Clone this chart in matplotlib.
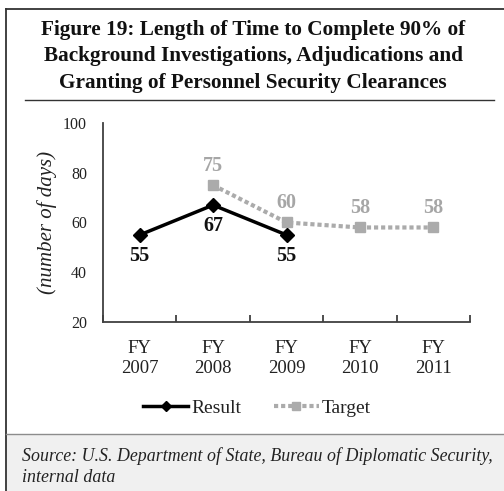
import matplotlib
matplotlib.use("Agg")
import matplotlib.pyplot as plt
from matplotlib.lines import Line2D
from matplotlib.patches import Rectangle

# Data
years = ["FY\n2007", "FY\n2008", "FY\n2009", "FY\n2010", "FY\n2011"]
result_idx = [0, 1, 2]
result_vals = [55, 67, 55]
target_idx = [1, 2, 3, 4]
target_vals = [75, 60, 58, 58]
yticks = [20, 40, 60, 80, 100]

W, H = 504, 491
fig = plt.figure(figsize=(W / 100, H / 100), dpi=100)
fig.patch.set_facecolor("white")
plt.rcParams["font.family"] = ["Liberation Serif", "DejaVu Serif"]

def fx(px):
    return px / W

def fy(py):
    return 1 - py / H

# Frame: left and top border, source panel
fig.add_artist(Line2D([fx(6), fx(6)], [fy(9), 0], color="#333333", lw=1.3))
fig.add_artist(Line2D([fx(6), 1], [fy(9), fy(9)], color="#333333", lw=1.3))
fig.add_artist(Rectangle((fx(6.6), 0), 1 - fx(6.6), fy(434), facecolor="#f0f0f0",
                         edgecolor="none", zorder=0))
fig.add_artist(Line2D([fx(6), 1], [fy(434), fy(434)], color="#8c8c8c", lw=1.0))
fig.add_artist(Line2D([fx(25), fx(494)], [fy(100), fy(100)], color="#333333", lw=1.0))

# Title
fig.text(fx(253), fy(56.5), "Figure 19: Length of Time to Complete 90% of\n"
         "Background Investigations, Adjudications and\n"
         "Granting of Personnel Security Clearances",
         ha="center", va="center", fontsize=15.3, fontweight="bold",
         linespacing=1.43, color="#111111")

# Source note
fig.text(fx(22), fy(456), "Source: U.S. Department of State, Bureau of Diplomatic Security,",
         ha="left", va="center", fontsize=12.9, style="italic", color="#222222")
fig.text(fx(22), fy(477), "internal data",
         ha="left", va="center", fontsize=12.9, style="italic", color="#222222")

# Axes
ax = fig.add_axes([fx(103), fy(322), fx(470) - fx(103), fy(123) - fy(322)])
ax.set_facecolor("none")
ax.set_xlim(-0.5, len(years) - 0.5)
ax.set_ylim(20, 100)

for s in ["top", "right"]:
    ax.spines[s].set_visible(False)
for s in ["left", "bottom"]:
    ax.spines[s].set_color("#404040")
    ax.spines[s].set_linewidth(1.3)

ax.set_yticks(yticks)
ax.set_yticklabels([str(v) for v in yticks])
ax.tick_params(axis="y", which="major", length=0, pad=11.5, labelsize=11.5, labelcolor="#222222")
ax.set_yticks([100], minor=True)
ax.tick_params(axis="y", which="minor", length=9, direction="in", width=1.3, color="#404040")

ax.set_xticks(range(len(years)))
ax.set_xticklabels(years, linespacing=1.2)
ax.tick_params(axis="x", which="major", length=0, pad=13, labelsize=13.5, labelcolor="#222222")
ax.set_xticks([i - 0.5 for i in range(len(years) + 1)], minor=True)
ax.tick_params(axis="x", which="minor", length=5, direction="in", width=1.3, color="#404040")

ax.set_ylabel("(number of days)", fontsize=15, style="italic", color="#222222", labelpad=4)

gray = "#ababab"
ax.plot(target_idx, target_vals, linestyle=(0, (1, 0.7)), color=gray, lw=3,
        marker="s", markersize=7, markerfacecolor=gray, markeredgecolor=gray,
        label="Target", zorder=3)
ax.plot(result_idx, result_vals, linestyle="-", color="black", lw=2.5,
        marker="D", markersize=7, markerfacecolor="black", markeredgecolor="black",
        label="Result", zorder=4)

for x, v in zip(result_idx, result_vals):
    ax.annotate(str(v), (x, v), xytext=(0, -21), textcoords="offset pixels",
                ha="center", va="center", fontsize=14.5, fontweight="bold", color="#111111")
for x, v in zip(target_idx, target_vals):
    ax.annotate(str(v), (x, v), xytext=(0, 19), textcoords="offset pixels",
                ha="center", va="center", fontsize=14.5, fontweight="bold", color="#a6a6a6")

handles, labels = ax.get_legend_handles_labels()
order = [1, 0]
fig.legend([handles[i] for i in order], [labels[i] for i in order],
           loc="center", bbox_to_anchor=(fx(257), fy(408)), ncol=2, frameon=False,
           fontsize=14, handlelength=2.3, handletextpad=0.15, columnspacing=1.7,
           labelcolor="#222222", markerscale=0.8)

fig.savefig("out.png", dpi=100)
